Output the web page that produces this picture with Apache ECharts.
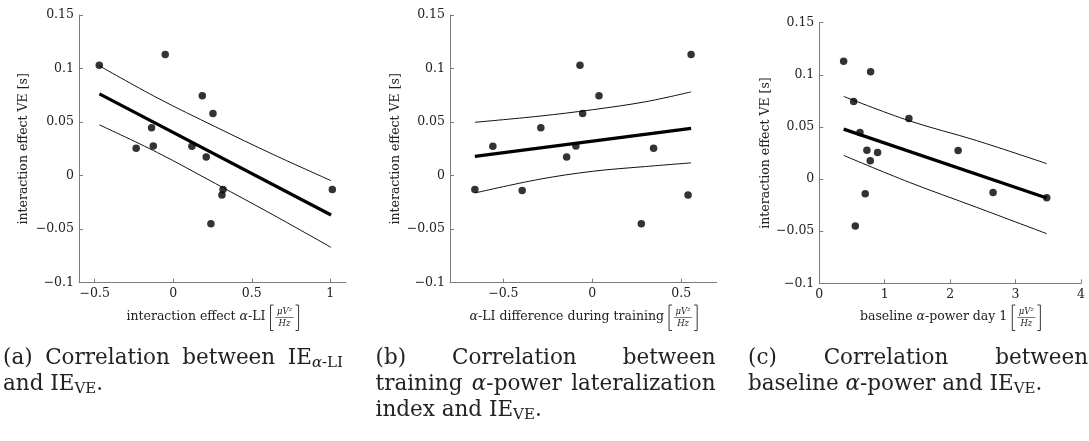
<!DOCTYPE html>
<html>
<head>
<meta charset="utf-8">
<script src="https://cdn.jsdelivr.net/npm/echarts@6/dist/echarts.min.js"></script>
<style>
  html, body { margin: 0; padding: 0; background: #fff; }
  #chart { width: 1089px; height: 441px; }
</style>
</head>
<body>
<div id="chart"></div>
<script>
// ---- data -------------------------------------------------------------
// (a) interaction effect alpha-LI vs interaction effect VE
const aX = [-0.471, -0.051, 0.185, 0.253, -0.138, -0.236, -0.127, 0.119, 0.210, 0.317, 0.310, 0.240, 1.013];
const aY = [0.103, 0.113, 0.0745, 0.058, 0.0446, 0.0255, 0.0277, 0.0274, 0.0175, -0.013, -0.018, -0.045, -0.013];
const aFitX = [-0.47, 1.005];
const aFitY = [0.0763, -0.0368];
const aBandX = [-0.47, -0.1, 0.27, 0.64, 1.005];
const aBandHi = [0.1025, 0.0725, 0.0455, 0.0195, -0.0047];
const aBandLo = [0.0474, 0.0215, -0.0075, -0.0370, -0.0670];

// (b) alpha-LI difference during training vs interaction effect VE
const bX = [-0.660, -0.559, -0.394, -0.289, -0.144, -0.092, -0.069, -0.054, 0.038, 0.345, 0.276, 0.539, 0.556];
const bY = [-0.013, 0.0274, -0.014, 0.0446, 0.0175, 0.0277, 0.103, 0.058, 0.0745, 0.0255, -0.045, -0.018, 0.113];
const bFitX = [-0.66, 0.556];
const bFitY = [0.018, 0.0442];
const bBandX = [-0.66, -0.3, 0, 0.3, 0.556];
const bBandHi = [0.0498, 0.0555, 0.0615, 0.0690, 0.0782];
const bBandLo = [-0.0162, -0.0035, 0.0040, 0.0085, 0.0119];

// (c) baseline alpha-power day 1 vs interaction effect VE
const cX = [0.372, 0.784, 0.525, 1.369, 0.621, 0.728, 0.891, 0.779, 2.122, 0.702, 0.550, 2.656, 3.476];
const cY = [0.113, 0.103, 0.0745, 0.058, 0.0446, 0.0277, 0.0255, 0.0175, 0.0274, -0.014, -0.045, -0.013, -0.018];
const cFitX = [0.372, 3.476];
const cFitY = [0.0479, -0.0182];
const cBandX = [0.372, 1.37, 2.4, 3.476];
const cBandHi = [0.0793, 0.0560, 0.0370, 0.0148];
const cBandLo = [0.0227, -0.0030, -0.0270, -0.0524];

// axis ranges and tick values
const yRange = [-0.1, 0.15];
const yTicks = [-0.1, -0.05, 0, 0.05, 0.1, 0.15];
const aRange = [-0.6, 1.1];
const aTicks = [-0.5, 0, 0.5, 1];
const bRange = [-0.8, 0.7];
const bTicks = [-0.5, 0, 0.5];
const cRange = [0, 4];
const cTicks = [0, 1, 2, 3, 4];

// ---- styling / layout ---------------------------------------------------
const FONT = 'DejaVu Serif';
const AXIS_GREY = '#7c7c7c';
const TEXT = '#222';
const INK = '#000';

const GRIDS = [
  { left: 79, top: 15, width: 267, height: 267.7 },
  { left: 450, top: 15, width: 266.7, height: 267.7 },
  { left: 819.3, top: 22.7, width: 261.7, height: 260.6 }
];
const Y_NAME_GAP = [49, 48, 47];

const pairs = (xs, ys) => xs.map((x, i) => [x, ys[i]]);
const fmt = v => {
  const s = String(Math.abs(+v.toFixed(4)));
  return v < -1e-9 ? '\u2212' + s : s;
};

function xAxis(gi, range, ticks) {
  return {
    type: 'value', gridIndex: gi, min: range[0], max: range[1],
    axisLine: { show: true, onZero: false, lineStyle: { color: AXIS_GREY, width: 1 } },
    axisTick: { show: true, inside: true, length: 4, customValues: ticks, lineStyle: { color: AXIS_GREY } },
    axisLabel: { customValues: ticks, formatter: fmt, color: TEXT, fontFamily: FONT, fontSize: 12.5, margin: 5 },
    splitLine: { show: false }
  };
}
function yAxis(gi) {
  return {
    type: 'value', gridIndex: gi, min: yRange[0], max: yRange[1],
    axisLine: { show: true, onZero: false, lineStyle: { color: AXIS_GREY, width: 1 } },
    axisTick: { show: true, inside: true, length: 4, customValues: yTicks, lineStyle: { color: AXIS_GREY } },
    axisLabel: { customValues: yTicks, formatter: fmt, color: TEXT, fontFamily: FONT, fontSize: 12.5, margin: 5 },
    splitLine: { show: false },
    name: 'interaction effect VE [s]',
    nameLocation: 'middle',
    nameGap: Y_NAME_GAP[gi],
    nameTextStyle: { color: TEXT, fontFamily: FONT, fontSize: 12.5 }
  };
}

function panelSeries(gi, xs, ys, fx, fy, bx, hi, lo) {
  const line = (data, width, color) => ({
    type: 'line', xAxisIndex: gi, yAxisIndex: gi, data, symbol: 'none',
    smooth: 0.35, lineStyle: { color, width }, silent: true, z: 2
  });
  return [
    line(pairs(bx, hi), 1, '#111'),
    line(pairs(bx, lo), 1, '#111'),
    Object.assign(line(pairs(fx, fy), 3.2, INK), { smooth: false }),
    {
      type: 'scatter', xAxisIndex: gi, yAxisIndex: gi, data: pairs(xs, ys),
      symbol: 'circle', symbolSize: 7.5, itemStyle: { color: INK }, silent: true, z: 3
    }
  ];
}

// ---- text helpers (axis titles with units, sub-figure captions) --------
const mctx = document.createElement('canvas').getContext('2d');
function textWidth(t, size, italic) {
  mctx.font = (italic ? 'italic ' : '') + size + 'px "' + FONT + '"';
  return mctx.measureText(t).width;
}
function textEl(t, x, y, size, italic) {
  return {
    type: 'text', x, y, silent: true,
    style: {
      text: t, fill: TEXT, fontFamily: FONT, fontSize: size,
      fontStyle: italic ? 'italic' : 'normal', align: 'left', verticalAlign: 'middle'
    }
  };
}
function lineEl(points, width) {
  return { type: 'polyline', silent: true, shape: { points }, style: { stroke: TEXT, lineWidth: width, fill: null } };
}

// x-axis title: label text followed by a bracketed fraction  [ μV² / Hz ]
const xNames = [
  [{ t: 'interaction effect ' }, { t: 'α', it: 1 }, { t: '-LI' }],
  [{ t: 'α', it: 1 }, { t: '-LI difference during training' }],
  [{ t: 'baseline ' }, { t: 'α', it: 1 }, { t: '-power day 1' }]
];
const unitNum = 'μV²';
const unitDen = 'Hz';

function xTitle(gi) {
  const g = GRIDS[gi];
  const cx = g.left + g.width / 2;
  const size = 12.5, fsz = 8.5;
  const yMid = 317, top = 305, bot = 330.5;
  const segs = xNames[gi];
  const mainW = segs.reduce((s, p) => s + textWidth(p.t, size, p.it), 0);
  const numW = textWidth(unitNum, fsz, true), denW = textWidth(unitDen, fsz, true);
  const fracW = Math.max(numW, denW) + 3;
  const total = mainW + 5 + 3 + 2 + fracW + 2 + 3;
  let x = cx - total / 2;
  const els = [];
  segs.forEach(p => { els.push(textEl(p.t, x, yMid, size, p.it)); x += textWidth(p.t, size, p.it); });
  x += 5;
  els.push(lineEl([[x + 3, top], [x, top], [x, bot], [x + 3, bot]], 0.9));
  x += 5;
  const fc = x + fracW / 2;
  els.push(textEl(unitNum, fc - numW / 2, 311.5, fsz, true));
  els.push(lineEl([[x, 317.5], [x + fracW, 317.5]], 0.6));
  els.push(textEl(unitDen, fc - denW / 2, 324, fsz, true));
  x += fracW + 2;
  els.push(lineEl([[x, top], [x + 3, top], [x + 3, bot], [x, bot]], 0.9));
  return els;
}

// sub-figure captions
const CAP_SIZE = 21.5, SUB_SIZE = 15, SUB_DROP = 5;
const CAP_COLS = [3, 375.5, 748];
const CAP_WIDTH = 340;
const CAP_LINES_Y = [358, 384, 410];
const alpha = { t: 'α', it: 1 };
const captions = [
  [
    { justify: true, words: [[{ t: '(a)' }], [{ t: 'Correlation' }], [{ t: 'between' }],
      [{ t: 'IE' }, { t: 'α', it: 1, sub: 1 }, { t: '-LI', sub: 1 }]] },
    { justify: false, words: [[{ t: 'and' }], [{ t: 'IE' }, { t: 'VE', sub: 1 }, { t: '.' }]] }
  ],
  [
    { justify: true, words: [[{ t: '(b)' }], [{ t: 'Correlation' }], [{ t: 'between' }]] },
    { justify: true, words: [[{ t: 'training' }], [alpha, { t: '-power' }], [{ t: 'lateralization' }]] },
    { justify: false, words: [[{ t: 'index' }], [{ t: 'and' }], [{ t: 'IE' }, { t: 'VE', sub: 1 }, { t: '.' }]] }
  ],
  [
    { justify: true, words: [[{ t: '(c)' }], [{ t: 'Correlation' }], [{ t: 'between' }]] },
    { justify: false, words: [[{ t: 'baseline' }], [alpha, { t: '-power' }], [{ t: 'and' }],
      [{ t: 'IE' }, { t: 'VE', sub: 1 }, { t: '.' }]] }
  ]
];

function captionEls(ci) {
  const els = [];
  const segW = s => textWidth(s.t, s.sub ? SUB_SIZE : CAP_SIZE, s.it);
  const space = textWidth(' ', CAP_SIZE);
  captions[ci].forEach((line, li) => {
    const y = CAP_LINES_Y[li];
    const widths = line.words.map(wd => wd.reduce((s, p) => s + segW(p), 0));
    const sum = widths.reduce((a, b) => a + b, 0);
    const gap = line.justify
      ? Math.max(space * 0.6, (CAP_WIDTH - sum) / (line.words.length - 1))
      : space;
    let x = CAP_COLS[ci];
    line.words.forEach(wd => {
      wd.forEach(p => {
        const size = p.sub ? SUB_SIZE : CAP_SIZE;
        els.push(textEl(p.t, x, y + (p.sub ? SUB_DROP : 0), size, p.it));
        x += segW(p);
      });
      x += gap;
    });
  });
  return els;
}

// ---- chart --------------------------------------------------------------
const chart = echarts.init(document.getElementById('chart'), null, { renderer: 'canvas' });
const graphics = [].concat(xTitle(0), xTitle(1), xTitle(2), captionEls(0), captionEls(1), captionEls(2));

chart.setOption({
  animation: false,
  backgroundColor: '#ffffff',
  grid: GRIDS.map(g => Object.assign({ containLabel: false, outerBoundsMode: 'none' }, g)),
  xAxis: [xAxis(0, aRange, aTicks), xAxis(1, bRange, bTicks), xAxis(2, cRange, cTicks)],
  yAxis: [yAxis(0), yAxis(1), yAxis(2)],
  series: [].concat(
    panelSeries(0, aX, aY, aFitX, aFitY, aBandX, aBandHi, aBandLo),
    panelSeries(1, bX, bY, bFitX, bFitY, bBandX, bBandHi, bBandLo),
    panelSeries(2, cX, cY, cFitX, cFitY, cBandX, cBandHi, cBandLo)
  ),
  graphic: graphics
});
</script>
</body>
</html>
